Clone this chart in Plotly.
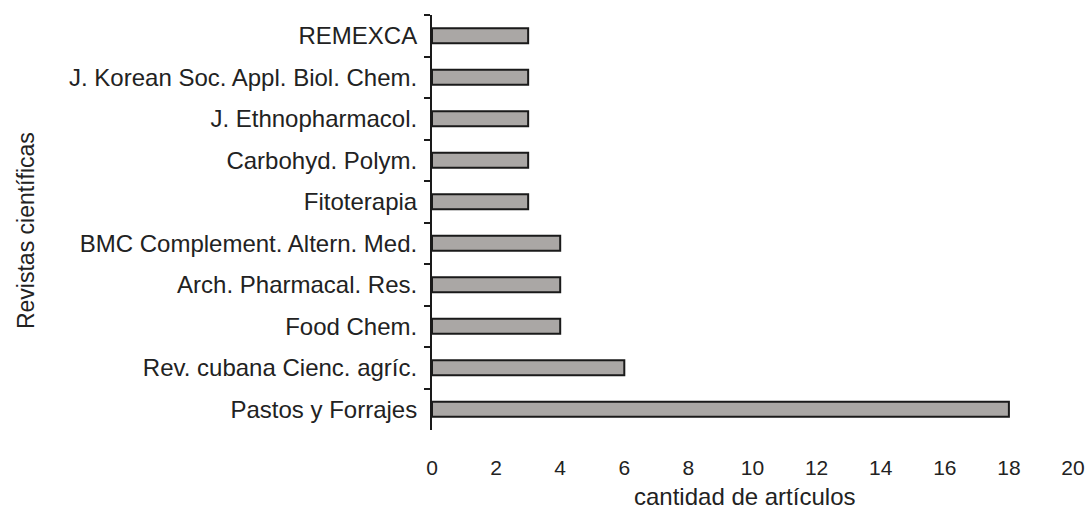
import plotly.graph_objects as go

journals = [
    "REMEXCA",
    "J. Korean Soc. Appl. Biol. Chem.",
    "J. Ethnopharmacol.",
    "Carbohyd. Polym.",
    "Fitoterapia",
    "BMC Complement. Altern. Med.",
    "Arch. Pharmacal. Res.",
    "Food Chem.",
    "Rev. cubana Cienc. agríc.",
    "Pastos y Forrajes",
]
articles = [3, 3, 3, 3, 3, 4, 4, 4, 6, 18]
x_ticks = [0, 2, 4, 6, 8, 10, 12, 14, 16, 18, 20]
x_title = "cantidad de artículos"
y_title = "Revistas científicas"

fig = go.Figure(
    go.Bar(
        x=articles,
        y=journals,
        orientation="h",
        marker=dict(color="#aaa7a5", line=dict(color="#1a1a1a", width=2)),
    )
)

font_family = "Liberation Sans, Arial, sans-serif"

fig.update_layout(
    width=1088,
    height=510,
    margin=dict(l=432, r=15, t=15, b=80),
    plot_bgcolor="white",
    paper_bgcolor="white",
    bargap=0.64,
    showlegend=False,
    font=dict(family=font_family, color="#222222"),
    xaxis=dict(
        range=[0, 20],
        tickvals=x_ticks,
        ticktext=[str(v) for v in x_ticks],
        showgrid=False,
        zeroline=False,
        showline=False,
        ticks="outside",
        ticklen=19,
        tickcolor="rgba(0,0,0,0)",
        tickfont=dict(size=21, color="#222222"),
        ticklabeloverflow="allow",
        automargin=False,
    ),
    yaxis=dict(
        autorange="reversed",
        showgrid=False,
        zeroline=False,
        showline=True,
        linecolor="#1a1a1a",
        linewidth=2,
        ticks="outside",
        tickson="boundaries",
        ticklen=6,
        tickwidth=2,
        tickcolor="#1a1a1a",
        ticklabelstandoff=8,
        tickfont=dict(size=24, color="#222222"),
        automargin=False,
    ),
    annotations=[
        dict(
            text=x_title, xref="paper", yref="paper", x=0.487, y=-0.161,
            xanchor="center", yanchor="middle", showarrow=False,
            font=dict(size=24, color="#222222"),
        ),
        dict(
            text=y_title, xref="paper", yref="paper", x=-0.633, y=0.48,
            xanchor="center", yanchor="middle", showarrow=False, textangle=-90,
            font=dict(size=23, color="#222222"),
        ),
    ],
)

fig.write_html(
    "out.html",
    config={"displayModeBar": False},
    post_script="document.body.style.margin='0';document.body.style.overflow='hidden';",
)
